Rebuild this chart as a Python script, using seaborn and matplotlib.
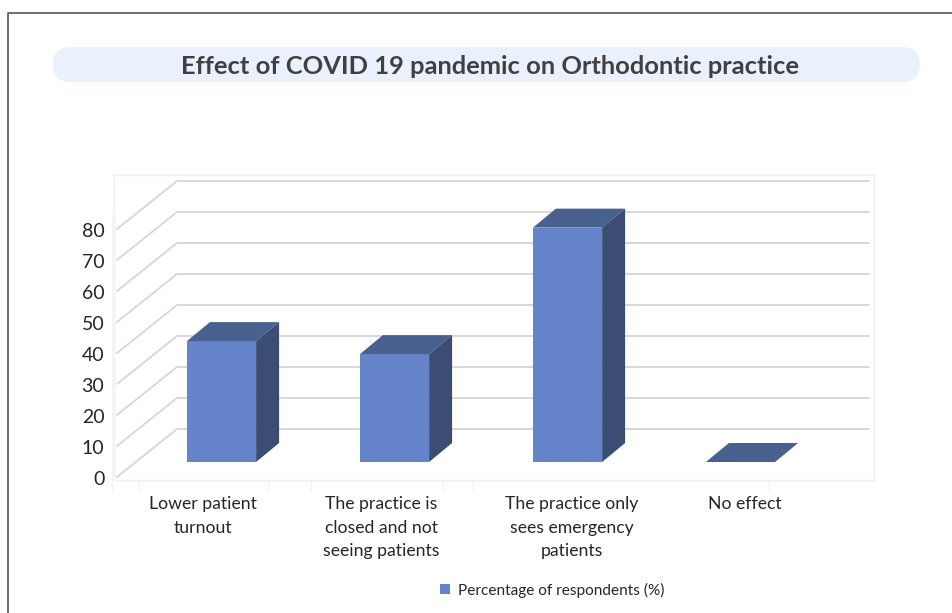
import pandas as pd
import seaborn as sns
import matplotlib.pyplot as plt
from matplotlib.lines import Line2D
from matplotlib.patches import FancyBboxPatch, Polygon
from matplotlib.transforms import IdentityTransform

categories = ['Lower patient\nturnout',
              'The practice is\nclosed and not\nseeing patients',
              'The practice only\nsees emergency\npatients',
              'No effect']
percent = [39, 34.8, 75.6, 0]
y_ticks = [0, 10, 20, 30, 40, 50, 60, 70, 80]
series_name = 'Percentage of respondents (%)'
title = 'Effect of COVID 19 pandemic on Orthodontic practice'

front_col = '#6584C9'
top_col = '#49618F'
side_col = '#3B4D72'
grid_col = '#D6D6D6'
frame_col = '#EFEFEF'
text_col = '#262626'

W, H = 952, 613
# pixels per unit on both scales, the fake 3d is all worked out from these
px_x, px_y = 173, 3.1
bar_dx, bar_dy = 23 / px_x, 19 / px_y
front_drop = 15 / px_y
back_rise = 33 / px_y

sns.set_theme(style='white')
plt.rcParams['font.family'] = ['Lato', 'DejaVu Sans']

fig = plt.figure(figsize=(W / 100, H / 100), dpi=100)
ax = fig.add_axes([114 / W, (H - 480) / H, 760 / W, 305 / H])

df = pd.DataFrame({'category': categories, 'percent': percent})
sns.barplot(data=df, x='category', y='percent', color=front_col, width=0.4,
            saturation=1, linewidth=0, label=series_name, zorder=3, ax=ax)

ax.set_xlim((114 - 221.5) / px_x, (874 - 221.5) / px_x)
ax.set_ylim(-18 / px_y, 287 / px_y)

# back wall + left wall lines
trans = ax.get_yaxis_transform()
for v in y_ticks:
    ax.plot([3 / 760, 63 / 760, 755 / 760],
            [v - front_drop, v + back_rise, v + back_rise],
            color=grid_col, lw=1.3, transform=trans, zorder=1)

# top and side faces from the seaborn bars
for p in list(ax.patches):
    x0 = p.get_x()
    x1 = x0 + p.get_width()
    h = p.get_height()
    ax.add_patch(Polygon([(x0, h), (x1, h), (x1 + bar_dx, h + bar_dy), (x0 + bar_dx, h + bar_dy)],
                         facecolor=top_col, edgecolor='none', zorder=3))
    if h > 0:
        ax.add_patch(Polygon([(x1, 0), (x1 + bar_dx, bar_dy), (x1 + bar_dx, h + bar_dy), (x1, h)],
                             facecolor=side_col, edgecolor='none', zorder=3))

# labels sit a bit off the bars in the original
label_nudge = [-0.107, -0.075, 0.023, 0.026]
ax.set_xticks([i + n for i, n in enumerate(label_nudge)], categories,
              fontsize=12.7, color=text_col, linespacing=1.57)
ax.set_yticks([v - front_drop - 0.3 for v in y_ticks], [str(v) for v in y_ticks],
              fontsize=14, color=text_col)
ax.tick_params(axis='x', length=0, pad=11.7)
ax.tick_params(axis='y', length=0, pad=7)
ax.set_xlabel('')
ax.set_ylabel('')
for s in ax.spines.values():
    s.set_color(frame_col)
    s.set_linewidth(1)

# faint leftover tick marks under the frame
faint_px = [139, 268, 310.5, 443, 473, 769]
ax.set_xticks([(x - 221.5) / px_x for x in faint_px], minor=True)
ax.tick_params(axis='x', which='minor', bottom=True, length=8, width=1, color='#F2F2F2')
fig.add_artist(Line2D([112 / W, 112 / W], [(H - 491) / H, (H - 211) / H], color='#F4F4F4', lw=1))

ax.legend(loc='center left', bbox_to_anchor=(426 / W, (H - 590) / H),
          bbox_transform=fig.transFigure, frameon=False, fontsize=11.1,
          labelcolor=text_col, handlelength=0.65, handleheight=0.65, handletextpad=0.55)

# title pill and the page border
fig.add_artist(FancyBboxPatch((53, H - 82), 867, 35, boxstyle='round,pad=0,rounding_size=17.5',
                              facecolor='#EAF0FC', edgecolor='none', transform=IdentityTransform()))
fig.text(490.5 / W, (H - 67) / H, title, ha='center', va='center', fontsize=18.35,
         fontweight='bold', color='#404040')
fig.add_artist(Line2D([8 / W, 8 / W, 1], [0, (H - 13) / H, (H - 13) / H], color='#555555', lw=1.2))

fig.savefig('out.png', dpi=100)
